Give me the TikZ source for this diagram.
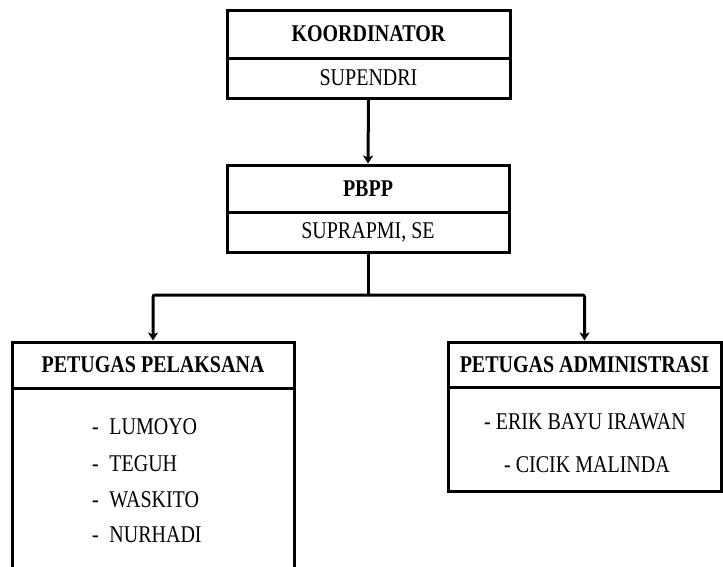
\documentclass[tikz,border=0pt]{standalone}
\usepackage{fontspec}
\setmainfont{Liberation Serif}
\usetikzlibrary{arrows.meta}
\newcommand{\tx}[1]{\scalebox{1}[1.2]{#1}}
\begin{document}
\begin{tikzpicture}[x=1pt,y=-1pt,
  box/.style={draw, line width=3pt, rectangle, inner sep=0pt, font=\fontsize{20}{24}\selectfont},
  lbl/.style={inner sep=0pt, font=\fontsize{20}{24}\selectfont},
  arr/.style={line width=3pt, rounded corners=2pt, -{Stealth[length=8pt,width=10pt,inset=2pt]}},
  ln/.style={line width=3pt}]
\useasboundingbox (0,0) rectangle (723,566);
% Koordinator
\node[box, minimum width=283pt, minimum height=48pt] (k1) at (368.5,34) {\tx{\textbf{KOORDINATOR}}};
\node[box, minimum width=283pt, minimum height=40pt] (k2) at (368.5,78) {\tx{SUPENDRI}};
% PBPP
\node[box, minimum width=282pt, minimum height=47pt] (p1) at (368,188.5) {\tx{\textbf{PBPP}}};
\node[box, minimum width=282pt, minimum height=40pt] (p2) at (368,232) {\tx{SUPRAPMI, SE}};
% Petugas Pelaksana
\node[box, minimum width=282pt, minimum height=46pt] (a1) at (153,365) {\tx{\textbf{PETUGAS PELAKSANA}}};
\node[box, minimum width=282pt, minimum height=192pt] (a2) at (153,484) {};
\node[lbl, anchor=west] (l1) at (92,427) {\tx{-\; LUMOYO}};
\node[lbl, anchor=west] (l2) at (92,464) {\tx{-\; TEGUH}};
\node[lbl, anchor=west] (l3) at (92,500) {\tx{-\; WASKITO}};
\node[lbl, anchor=west] (l4) at (92,535) {\tx{-\; NURHADI}};
% Petugas Administrasi
\node[box, minimum width=273pt, minimum height=45pt] (b1) at (584.5,364.5) {\tx{\textbf{PETUGAS ADMINISTRASI}}};
\node[box, minimum width=273pt, minimum height=104pt] (b2) at (584.5,439) {};
\node[lbl] (r1) at (585,422) {\tx{- ERIK BAYU IRAWAN}};
\node[lbl] (r2) at (587,465) {\tx{- CICIK MALINDA}};
% connectors
\coordinate (j) at (p2.south |- 0,295);
\draw[arr] (k2.south) -- (p1.north);
\draw[ln] (p2.south) -- (j);
\draw[arr] (j) -| (a1.north);
\draw[arr] (j) -| (b1.north);
\end{tikzpicture}
\end{document}
